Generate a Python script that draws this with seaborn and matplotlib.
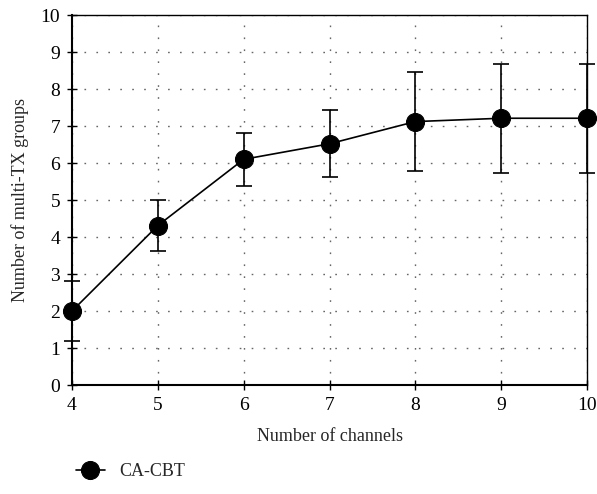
import numpy as np
import pandas as pd
import matplotlib
matplotlib.use("Agg")
import matplotlib.pyplot as plt
import seaborn as sns

channels = [4, 5, 6, 7, 8, 9, 10]
groups = [2.0, 4.31, 6.1, 6.52, 7.12, 7.21, 7.21]
err = [0.82, 0.68, 0.71, 0.9, 1.33, 1.47, 1.47]
series = "CA-CBT"

sns.set_theme(style="white")
plt.rcParams["font.family"] = ["Liberation Serif", "DejaVu Serif"]
plt.rcParams["font.size"] = 13

df = pd.DataFrame({"channels": channels, "groups": groups, "err": err, "method": series})

fig = plt.figure(figsize=(5.97, 4.94), dpi=100)
ax = fig.add_axes([0.1206, 0.2206, 0.8627, 0.749])

eb = ax.errorbar(df["channels"], df["groups"], yerr=df["err"], fmt="none",
                 ecolor="black", elinewidth=1.2, capsize=6, capthick=1.2, zorder=2)
for art in eb.get_children():
    art.set_clip_on(False)
sns.lineplot(data=df, x="channels", y="groups", hue="method", palette=["black"],
             marker="o", markersize=13, linewidth=1.2, ax=ax, zorder=3,
             markeredgecolor="black", clip_on=False)

ax.set_xlim(4, 10)
ax.set_ylim(0, 10)
ax.set_xticks(channels)
ax.set_yticks(range(0, 11))
ax.grid(True, color="#666666", linestyle=(0, (1.2, 7.4)), linewidth=1.0)
for s in ax.spines.values():
    s.set_color("black")
    s.set_linewidth(1.0)
ax.spines["left"].set_linewidth(1.5)
ax.spines["bottom"].set_linewidth(1.5)
ax.tick_params(axis="both", direction="inout", length=7, width=1.0, labelsize=14,
               colors="black", left=True, bottom=True)
ax.tick_params(axis="x", pad=5)
ax.tick_params(axis="y", pad=5)
ax.set_xlabel("Number of channels", fontsize=13, labelpad=10)
ax.set_ylabel("Number of multi-TX groups", fontsize=13, labelpad=8)

handles, labels = ax.get_legend_handles_labels()
ax.legend(handles, labels, loc="center left", bbox_to_anchor=(0.1, 0.045),
          bbox_transform=fig.transFigure, frameon=False, fontsize=13,
          handlelength=1.6, handletextpad=0.8)

fig.savefig("out.png", dpi=100)
